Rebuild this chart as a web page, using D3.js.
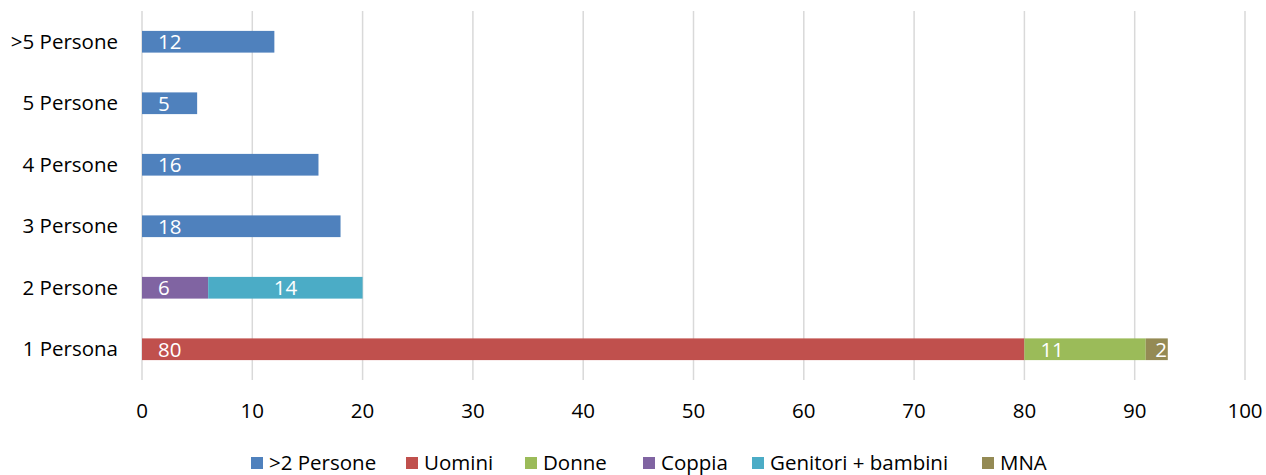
<!DOCTYPE html>
<html>
<head>
<meta charset="utf-8">
<script src="https://cdn.jsdelivr.net/npm/d3@7"></script>
<style>
  body { margin: 0; background: #fff; }
  text { font-family: "Open Sans", Lato, sans-serif; }
</style>
</head>
<body>
<svg id="chart"></svg>
<script>
// categories, bottom to top as in the picture
var categories = ["1 Persona", "2 Persone", "3 Persone", "4 Persone", "5 Persone", ">5 Persone"];
var seriesNames = [">2 Persone", "Uomini", "Donne", "Coppia", "Genitori + bambini", "MNA"];
var seriesColors = ["#4F81BD", "#C0504D", "#9BBB59", "#8064A2", "#4BACC6", "#948A54"];

// values per series, in order of categories (null = no bar)
var piuDi2   = [null, null, 18, 16, 5, 12];
var uomini   = [80, null, null, null, null, null];
var donne    = [11, null, null, null, null, null];
var coppia   = [null, 6, null, null, null, null];
var genitori = [null, 14, null, null, null, null];
var mna      = [2, null, null, null, null, null];

var xTicks = [0, 10, 20, 30, 40, 50, 60, 70, 80, 90, 100];

var seriesValues = [piuDi2, uomini, donne, coppia, genitori, mna];

var W = 1266, H = 475;
var margin = {top: 11, right: 21, bottom: 95, left: 142};
var width  = W - margin.left - margin.right,
    height = H - margin.top - margin.bottom;

var fontSize = "20.5px";

var svg = d3.select("#chart")
    .attr("width", W)
    .attr("height", H);

var g = svg.append("g")
    .attr("transform", "translate(" + margin.left + "," + margin.top + ")");

var x = d3.scaleLinear().domain([0, 100]).range([0, width]);
var y = d3.scaleBand()
    .domain(categories.slice().reverse())
    .range([0, height])
    .paddingInner(0.647)
    .paddingOuter(0.3235);

// gridlines
g.selectAll("line.grid")
    .data(xTicks)
  .enter().append("line")
    .attr("x1", function(d) { return x(d); })
    .attr("x2", function(d) { return x(d); })
    .attr("y1", 0)
    .attr("y2", height)
    .attr("stroke", "#d9d9d9")
    .attr("stroke-width", 1.5);

// x tick labels
g.selectAll("text.tick")
    .data(xTicks)
  .enter().append("text")
    .attr("x", function(d) { return x(d); })
    .attr("y", height + 38)
    .attr("text-anchor", "middle")
    .style("font-size", fontSize)
    .attr("fill", "#000")
    .text(function(d) { return d; });

// category labels
g.selectAll("text.cat")
    .data(categories)
  .enter().append("text")
    .attr("x", -24)
    .attr("y", function(d) { return y(d) + y.bandwidth() / 2; })
    .attr("dy", "0.35em")
    .attr("text-anchor", "end")
    .style("font-size", fontSize)
    .attr("fill", "#000")
    .text(function(d) { return d; });

// stacked segments
var segs = [];
categories.forEach(function(cat, ci) {
  var acc = 0;
  seriesValues.forEach(function(vals, si) {
    var v = vals[ci];
    if (v == null) return;
    segs.push({cat: cat, series: si, x0: acc, x1: acc + v, value: v});
    acc += v;
  });
});

g.selectAll("rect.bar")
    .data(segs)
  .enter().append("rect")
    .attr("x", function(d) { return x(d.x0); })
    .attr("y", function(d) { return y(d.cat); })
    .attr("width", function(d) { return x(d.x1) - x(d.x0); })
    .attr("height", y.bandwidth())
    .attr("fill", function(d) { return seriesColors[d.series]; });

// value labels (centered for "Genitori + bambini", near the base otherwise)
g.selectAll("text.val")
    .data(segs)
  .enter().append("text")
    .attr("x", function(d) {
      if (d.series === 4) return (x(d.x0) + x(d.x1)) / 2;
      var w = x(d.x1) - x(d.x0);
      return x(d.x0) + Math.min(16, Math.max(4, (w - 11) / 2 + 4));
    })
    .attr("y", function(d) { return y(d.cat) + y.bandwidth() / 2; })
    .attr("dy", "0.36em")
    .attr("text-anchor", function(d) { return d.series === 4 ? "middle" : "start"; })
    .style("font-size", fontSize)
    .attr("fill", "#fff")
    .text(function(d) { return d.value; });

// legend
var legendX = [251, 406, 525, 643, 752, 982];
var legend = svg.selectAll("g.legend")
    .data(seriesNames)
  .enter().append("g")
    .attr("transform", function(d, i) { return "translate(" + legendX[i] + "," + 463 + ")"; });

legend.append("rect")
    .attr("x", 0)
    .attr("y", -6)
    .attr("width", 12)
    .attr("height", 12)
    .attr("fill", function(d, i) { return seriesColors[i]; });

legend.append("text")
    .attr("x", 18)
    .attr("y", 0)
    .attr("dy", "0.36em")
    .style("font-size", fontSize)
    .attr("fill", "#000")
    .text(function(d) { return d; });
</script>
</body>
</html>
